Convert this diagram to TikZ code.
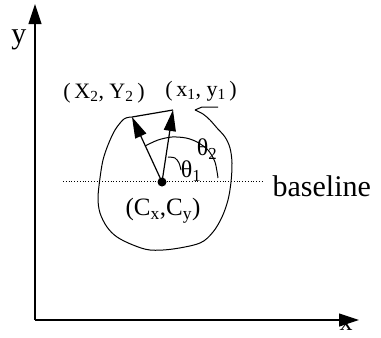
\documentclass[tikz,border=0pt]{standalone}
\usepackage{fontspec}
\setmainfont{Liberation Serif}
\usetikzlibrary{arrows.meta}

\begin{document}
\begin{tikzpicture}[x=1pt,y=-1pt,line width=1.2pt,
  vec/.style={-{Triangle[length=21pt,width=12pt]}},
  axis/.style={-{Triangle[length=20pt,width=13pt]}},
  lbl/.style={inner sep=0pt,font=\fontsize{22}{24}\selectfont},
  big/.style={inner sep=0pt,font=\fontsize{30}{32}\selectfont}]
  \useasboundingbox (0,0) rectangle (381,338);
  % axes
  \coordinate (O) at (35,320);
  \coordinate (xend) at (359,320);
  \coordinate (yend) at (35,4);
  \draw[axis] (O) -- (xend);
  \draw[axis] (O) -- (yend);
  \node[big,font=\fontsize{26}{28}\selectfont] (xlab) at (346,325) {x};
  \node[big] (ylab) at (19,40) {y};
  % baseline
  \coordinate (bl0) at (63,181);
  \coordinate (bl1) at (263,181);
  \draw[dotted,line width=0.8pt] (bl0) -- (bl1);
  \node[big,anchor=west] (bltext) at (272,186) {baseline};
  % outline of the character
  \draw[line width=1pt] (218,107) -- (202,107) -- (195,110)
    plot[smooth,tension=0.55] coordinates {(195,110) (203,114) (210,120)
    (217,128) (225,137) (230,148) (232,163) (231,182) (228,200) (222,217)
    (213,232) (200,243) (173,249) (150,250) (133,245) (117,237) (107,227)
    (100,213) (98,198) (100,178) (103,160) (108,145) (115,130) (124,119)
    (132,117)};
  % centre and the two vectors
  \node[circle,fill,inner sep=0pt,minimum size=9pt] (C) at (162,182) {};
  \coordinate (p1) at (173,110);
  \coordinate (p2) at (132,117);
  \draw[line width=1.2pt] (p2) -- (p1);
  \draw[vec] (C.center) -- (p1);
  \draw[vec] (C.center) -- (p2);
  % angles
  \draw[line width=1pt] plot[smooth] coordinates {(145,146) (158,140)
    (172,137) (186,138) (197,142) (208,150) (215,162) (218,178)};
  \draw[line width=1pt] plot[smooth] coordinates {(168,157) (175,158)
    (179,163) (181,170)};
  \node[lbl,font=\fontsize{24}{26}\selectfont] (th2) at (207,149) {θ\textsubscript{2}};
  \node[lbl,font=\fontsize{24}{26}\selectfont] (th1) at (191,171) {θ\textsubscript{1}};
  % labels
  \node[lbl] (P2) at (104,93) {(\,X\textsubscript{2}, Y\textsubscript{2}\,)};
  \node[lbl] (P1) at (201,91) {(\,x\textsubscript{1}, y\textsubscript{1}\,)};
  \node[lbl,font=\fontsize{25}{27}\selectfont] (Cc) at (163,211)
    {(C\textsubscript{x},C\textsubscript{y})};
\end{tikzpicture}
\end{document}
